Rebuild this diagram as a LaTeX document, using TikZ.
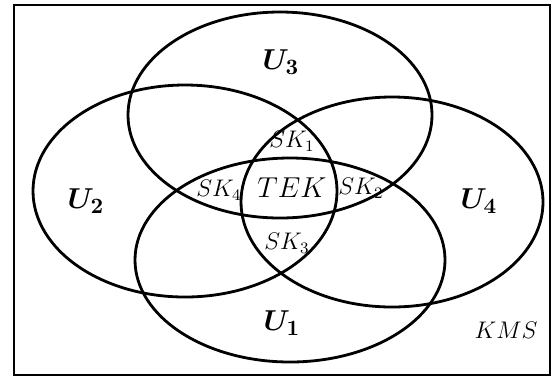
\documentclass[tikz,border=0pt]{standalone}
\usepackage{bm}
\tikzset{
  user/.style={font=\fontsize{15}{17}\selectfont},
  share/.style={font=\fontsize{11.5}{13}\selectfont, inner sep=0pt},
}
\begin{document}
\begin{tikzpicture}[x=0.5pt, y=-0.5pt, line width=1.4pt]
\useasboundingbox (0,0) rectangle (560,381);

% The frame
\draw (14,5) rectangle (550,375);

% The four user sets
\draw (280,115) ellipse [x radius=152, y radius=103];
\draw (185,191) ellipse [x radius=152, y radius=106];
\draw (392,202) ellipse [x radius=151, y radius=105];
\draw (290,260) ellipse [x radius=155, y radius=102];

% Set names
\node[user] (u3) at (281,62) {$\bm{U_3}$};
\node[user] (u2) at (86,201) {$\bm{U_2}$};
\node[user] (u4) at (479,201) {$\bm{U_4}$};
\node[user] (u1) at (282,323) {$\bm{U_1}$};
\node[font=\fontsize{13}{15}\selectfont] (kms) at (506,330) {$KMS$};

% Shared keys and the centre
\node[font=\fontsize{14.5}{16}\selectfont] (tek) at (292,188) {$TEK$};
\node[share] (sk1) at (292,141) {$SK_1$};
\node[share] (sk4) at (219,190) {$SK_4$};
\node[share] (sk2) at (361,188) {$SK_2$};
\node[share] (sk3) at (287,243) {$SK_3$};

\end{tikzpicture}
\end{document}
